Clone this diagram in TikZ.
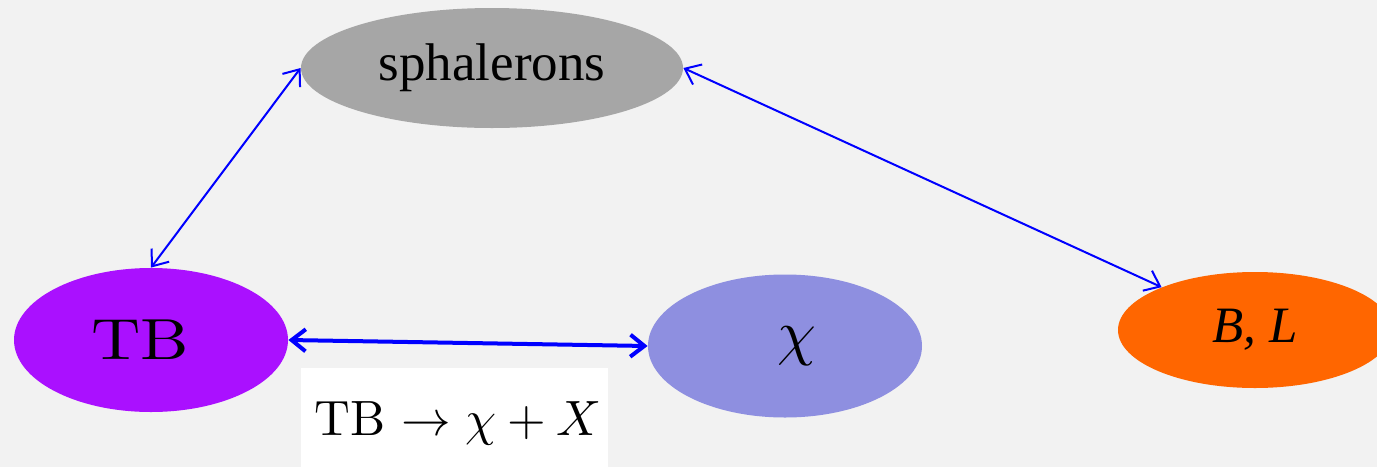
\documentclass[tikz,border=0pt]{standalone}
\usepackage{fontspec}
\newfontfamily\timesf{Liberation Serif}
\usetikzlibrary{shapes.geometric,arrows.meta}
\definecolor{bg}{HTML}{F2F2F2}
\definecolor{sphgray}{HTML}{A6A6A6}
\definecolor{tbpurple}{HTML}{AA10FF}
\definecolor{chiblue}{HTML}{8E8FE0}
\definecolor{blorange}{HTML}{FF6600}
\tikzset{
  blob/.style={ellipse, inner sep=0pt, draw=none},
  link/.style={blue, line width=1pt, {Straight Barb[length=7pt,width=11pt]}-{Straight Barb[length=7pt,width=11pt]}},
  thicklink/.style={blue, line width=2pt, {Straight Barb[length=7pt,width=11pt]}-{Straight Barb[length=7pt,width=11pt]}}
}
\begin{document}
\begin{tikzpicture}[x=0.5pt,y=-0.5pt]
\fill[bg] (0,0) rectangle (1377,467);
\useasboundingbox (0,0) rectangle (1377,467);
\clip (0,0) rectangle (1377,467);
\node[blob, fill=sphgray, minimum width=191pt, minimum height=60pt] (sph) at (492,68) {\timesf\fontsize{26.5}{30}\selectfont sphalerons};
\node[blob, fill=tbpurple, minimum width=137pt, minimum height=72pt,
  label={[xshift=-5.5pt]center:\scalebox{3.42}[2.9]{TB}}] (tb) at (151,340) {};
\node[blob, fill=chiblue, minimum width=137pt, minimum height=71.5pt,
  label={[xshift=6pt]center:\scalebox{3.1}{$\chi$}}] (chi) at (785,346) {};
\node[blob, fill=blorange, minimum width=137pt, minimum height=58pt] (bl) at (1255,330) {\timesf\itshape\fontsize{25.5}{30}\selectfont B, L};
\node[fill=white, anchor=north west, minimum width=153.5pt, minimum height=50pt, inner sep=0pt] (lbl) at (301,368) {};
\node (eq) at (458,423) {\scalebox{2.48}{TB $\rightarrow \chi + X$}};
\draw[link] (sph.west) -- (tb.north);
\draw[link] (sph.east) -- (bl);
\draw[thicklink] (tb.east) -- (chi.west);
\end{tikzpicture}
\end{document}
